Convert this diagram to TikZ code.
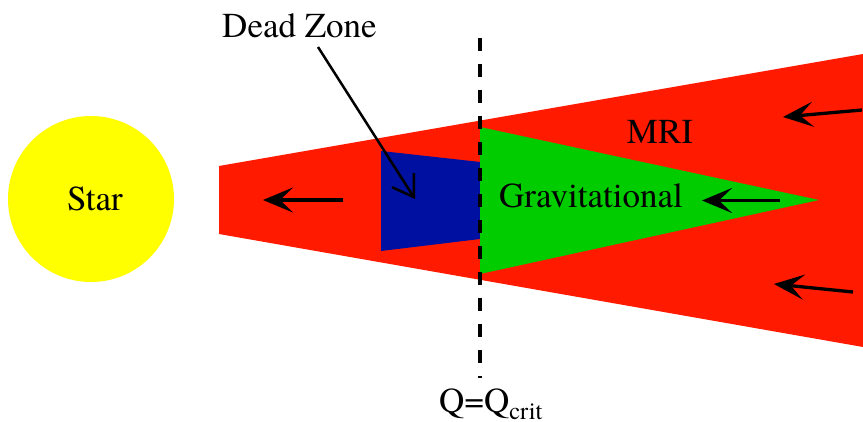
\documentclass[tikz,border=0pt]{standalone}
\usepackage{fontspec}
\setmainfont[Ligatures=TeX]{TeX Gyre Termes}
\usetikzlibrary{arrows.meta}
\definecolor{mrired}{RGB}{255,26,0}
\definecolor{gigreen}{RGB}{0,204,0}
\definecolor{dzblue}{RGB}{0,16,160}
\definecolor{staryellow}{RGB}{255,255,0}
\tikzset{
  lbl/.style={font=\rmfamily\fontsize{35}{42}\selectfont, inner sep=0pt, anchor=base},
  flow/.style={line width=3.3pt, -{Stealth[length=30pt,width=25pt,inset=13pt]}},
  pointer/.style={line width=2.5pt, -{Straight Barb[length=20pt,width=26pt,line width=2.5pt]}},
  qline/.style={line width=3.5pt, dash pattern=on 13.5pt off 12.5pt}
}
\begin{document}
\begin{tikzpicture}[x=1pt,y=-1pt]
\useasboundingbox (0,0) rectangle (863,422);
% star
\node[circle, fill=staryellow, minimum size=166pt, inner sep=0pt,
      font=\rmfamily\fontsize{35}{42}\selectfont] (star) at (91,199) {\hspace{8pt}Star};
% disc regions
\fill[mrired] (219,166) -- (863,54) -- (863,347) -- (219,234) -- cycle;
\fill[dzblue] (381,151) -- (480,162) -- (480,239) -- (381,251) -- cycle;
\fill[gigreen] (480,127) -- (819,200) -- (480,274) -- cycle;
% Q = Qcrit line
\coordinate (qtop) at (480,38);
\coordinate (qbot) at (480,378);
\draw[qline] (qtop) -- (qbot);
% labels
\node[lbl] (dz) at (299.5,38) {Dead Zone};
\node[lbl] (mri) at (660,144) {MRI};
\node[lbl] (grav) at (591,208) {Gravitational};
\node[lbl] (qc) at (491,412) {Q=Q\textsubscript{crit}};
% arrows
\coordinate (dzs) at (318,47);
\coordinate (dzt) at (415,199);
\draw[pointer] (dzs) -- (dzt);
\coordinate (a1s) at (343,200);
\coordinate (a1t) at (263,200);
\draw[flow] (a1s) -- (a1t);
\coordinate (a2s) at (780,200.5);
\coordinate (a2t) at (702,200.5);
\draw[flow] (a2s) -- (a2t);
\coordinate (a3s) at (862,110);
\coordinate (a3t) at (783,117);
\draw[flow] (a3s) -- (a3t);
\coordinate (a4s) at (853,292);
\coordinate (a4t) at (774,284);
\draw[flow] (a4s) -- (a4t);
\end{tikzpicture}
\end{document}
